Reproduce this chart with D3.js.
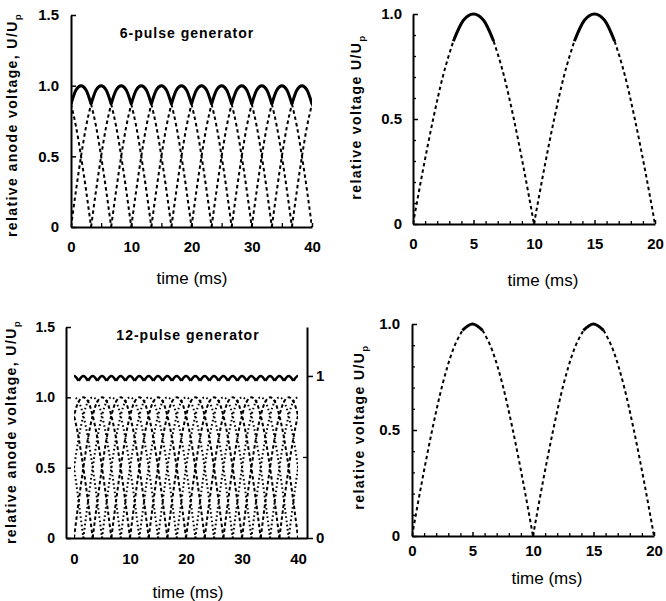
<!DOCTYPE html>
<html>
<head>
<meta charset="utf-8">
<script src="https://cdn.jsdelivr.net/npm/d3@7"></script>
<style>
  body { margin: 0; background: #fff; }
  text { fill: #000; }
</style>
</head>
<body>
<svg id="fig" width="666" height="601"></svg>
<script>
// one rectified half-period (10 ms) of the mains voltage
const halfWaveTime = [0, 0.833, 1.667, 2.5, 3.333, 4.167, 5, 5.833, 6.667, 7.5, 8.333, 9.167, 10];
const halfWaveValue = [0, 0.26, 0.5, 0.71, 0.87, 0.97, 1.0, 0.97, 0.87, 0.71, 0.5, 0.26, 0];

// zero crossings (ms) of the phase voltages
const phases6 = [0, 3.333, 6.667];
const phases12a = [0, 3.333, 6.667];
const phases12b = [1.667, 5, 8.333];
const cycleStarts40 = [-10, 0, 10, 20, 30];
const cycleStarts20 = [0, 10];

// tick labels
const ticksAnode = [0, 0.5, 1.0, 1.5];
const ticksRel = [0, 0.5, 1.0];
const ticksRelMinor = [0.1, 0.2, 0.3, 0.4, 0.6, 0.7, 0.8, 0.9];
const ticksRight12 = [0, 1];
const ticksTime40 = [0, 10, 20, 30, 40];
const ticksTime40Minor = [5, 15, 25, 35];
const ticksTime20 = [0, 5, 10, 15, 20];
const ticksTime20Minor = [1, 2, 3, 4, 6, 7, 8, 9, 11, 12, 13, 14, 16, 17, 18, 19];

const font = '"Liberation Sans", Arial, Helvetica, sans-serif';
const svg = d3.select("#fig");
const fmt = (d) => (d === 0 ? "0" : d3.format(".1f")(d));

// split one half-wave into rising (dashed), crest (solid) and falling (dashed) parts
function halfWave(t0, crestFrom, crestTo) {
  const pts = halfWaveTime.map((t, i) => ({ t: t0 + t, v: halfWaveValue[i] }));
  return {
    dashed: [pts.slice(0, crestFrom + 1), pts.slice(crestTo)],
    solid: pts.slice(crestFrom, crestTo + 1),
    all: pts
  };
}

function styleAxis(g, size) {
  g.attr("font-family", font).attr("font-size", size).attr("font-weight", "bold");
  g.select(".domain").attr("stroke-width", 2).attr("stroke", "#000");
  g.selectAll(".tick line").attr("stroke-width", 1.5).attr("stroke", "#000");
  g.selectAll(".tick text").attr("fill", "#000");
}

function minorAxis(axis, g) {
  g.call(axis.tickFormat("")).call((s) => s.select(".domain").remove());
  g.selectAll(".tick line").attr("stroke-width", 1.3).attr("stroke", "#000");
}

function yLabel(x, y, main, size) {
  const t = svg.append("text")
    .attr("transform", `translate(${x},${y}) rotate(-90)`)
    .attr("text-anchor", "middle")
    .attr("font-family", font)
    .attr("font-size", size)
    .attr("font-weight", "bold")
    .attr("letter-spacing", 1.4)
    .text(main);
  t.append("tspan").attr("font-size", size * 0.7).attr("dy", 4).text("p");
}

function xLabel(x, y) {
  svg.append("text")
    .attr("x", x).attr("y", y)
    .attr("text-anchor", "middle")
    .attr("font-family", font)
    .attr("font-size", 17)
    .text("time (ms)");
}

function title(x, y, txt) {
  svg.append("text")
    .attr("x", x).attr("y", y)
    .attr("text-anchor", "middle")
    .attr("font-family", font)
    .attr("font-size", 14)
    .attr("font-weight", "bold")
    .attr("letter-spacing", 1)
    .text(txt);
}

function clipFor(id, x, y, tmax) {
  svg.append("clipPath").attr("id", id)
    .append("rect")
    .attr("x", x(0)).attr("width", x(tmax) - x(0))
    .attr("y", y.range()[1] - 10).attr("height", y.range()[0] - y.range()[1] + 12);
}

// ---------- top left: 6-pulse generator ----------
{
  const x = d3.scaleLinear().domain([0, 40]).range([71, 312]);
  const y = d3.scaleLinear().domain([0, 1.5]).range([227, 15]);
  const line = d3.line().x((d) => x(d.t)).y((d) => y(d.v)).curve(d3.curveMonotoneX);
  clipFor("clipA", x, y, 40);
  const g = svg.append("g").attr("clip-path", "url(#clipA)");
  phases6.forEach((p) => {
    cycleStarts40.forEach((c) => {
      const hw = halfWave(p + c, 4, 8);
      hw.dashed.forEach((seg) => {
        g.append("path").attr("d", line(seg)).attr("fill", "none")
          .attr("stroke", "#000").attr("stroke-width", 2).attr("stroke-dasharray", "3.5,3");
      });
      g.append("path").attr("d", line(hw.solid)).attr("fill", "none")
        .attr("stroke", "#000").attr("stroke-width", 3);
    });
  });

  minorAxis(d3.axisBottom(x).tickValues(ticksTime40Minor).tickSize(-4),
    svg.append("g").attr("transform", `translate(0,${y(0)})`));
  svg.append("g").attr("transform", `translate(0,${y(0)})`)
    .call(d3.axisBottom(x).tickValues(ticksTime40).tickSize(-4).tickSizeOuter(0).tickPadding(14))
    .call((s) => styleAxis(s, 15));
  svg.append("g").attr("transform", `translate(${x(0)},0)`)
    .call(d3.axisLeft(y).tickValues(ticksAnode).tickFormat(fmt).tickSize(-5).tickSizeOuter(0).tickPadding(12))
    .call((s) => styleAxis(s, 15));

  yLabel(17, 125, "relative anode voltage, U/U", 14);
  xLabel(192, 284);
  title(187, 38, "6-pulse generator");
}

// ---------- top right: single phase ----------
{
  const x = d3.scaleLinear().domain([0, 20]).range([413, 655]);
  const y = d3.scaleLinear().domain([0, 1]).range([224, 14]);
  const line = d3.line().x((d) => x(d.t)).y((d) => y(d.v)).curve(d3.curveMonotoneX);
  clipFor("clipB", x, y, 20);
  const g = svg.append("g").attr("clip-path", "url(#clipB)");
  cycleStarts20.forEach((c) => {
    const hw = halfWave(c, 4, 8);
    hw.dashed.forEach((seg) => {
      g.append("path").attr("d", line(seg)).attr("fill", "none")
        .attr("stroke", "#000").attr("stroke-width", 2).attr("stroke-dasharray", "3.5,3");
    });
    g.append("path").attr("d", line(hw.solid)).attr("fill", "none")
      .attr("stroke", "#000").attr("stroke-width", 3);
  });

  minorAxis(d3.axisBottom(x).tickValues(ticksTime20Minor).tickSize(-3),
    svg.append("g").attr("transform", `translate(0,${y(0)})`));
  minorAxis(d3.axisLeft(y).tickValues(ticksRelMinor).tickSize(-3),
    svg.append("g").attr("transform", `translate(${x(0)},0)`));
  svg.append("g").attr("transform", `translate(0,${y(0)})`)
    .call(d3.axisBottom(x).tickValues(ticksTime20).tickSize(-4).tickSizeOuter(0).tickPadding(14))
    .call((s) => styleAxis(s, 15));
  svg.append("g").attr("transform", `translate(${x(0)},0)`)
    .call(d3.axisLeft(y).tickValues(ticksRel).tickFormat(fmt).tickSize(-5).tickSizeOuter(0).tickPadding(11))
    .call((s) => styleAxis(s, 15));

  yLabel(361, 117, "relative voltage U/U", 14);
  xLabel(543, 286);
}

// ---------- bottom left: 12-pulse generator ----------
{
  const x = d3.scaleLinear().domain([-1.43, 41.6]).range([66, 307]);
  const y = d3.scaleLinear().domain([0, 1.5]).range([538, 327]);
  const yR = d3.scaleLinear().domain([0, 1.302]).range([538, 327]);
  const line = d3.line().x((d) => x(d.t)).y((d) => y(d.v)).curve(d3.curveMonotoneX);
  const lineR = d3.line().x((d) => x(d.t)).y((d) => yR(d.v)).curve(d3.curveMonotoneX);
  clipFor("clipC", x, y, 40);
  const g = svg.append("g").attr("clip-path", "url(#clipC)");
  [[phases12a, "3.5,2.5"], [phases12b, "1.6,2.6"]].forEach(([phs, dash]) => {
    phs.forEach((p) => {
      cycleStarts40.forEach((c) => {
        g.append("path").attr("d", line(halfWave(p + c, 5, 7).all)).attr("fill", "none")
          .attr("stroke", "#000").attr("stroke-width", 2).attr("stroke-dasharray", dash);
      });
    });
  });
  phases12a.concat(phases12b).forEach((p) => {
    cycleStarts40.forEach((c) => {
      g.append("path").attr("d", lineR(halfWave(p + c, 5, 7).solid)).attr("fill", "none")
        .attr("stroke", "#000").attr("stroke-width", 2.6);
    });
  });

  svg.append("g").attr("transform", `translate(0,${y(0)})`)
    .call(d3.axisBottom(x).tickValues(ticksTime40).tickSize(0).tickSizeOuter(0).tickPadding(15))
    .call((s) => styleAxis(s, 15));
  svg.append("g").attr("transform", `translate(${x.range()[0]},0)`)
    .call(d3.axisLeft(y).tickValues(ticksAnode).tickFormat(fmt).tickSize(-5).tickSizeOuter(0).tickPadding(11))
    .call((s) => styleAxis(s, 14));
  minorAxis(d3.axisRight(yR).tickValues([0.5]).tickSize(-4),
    svg.append("g").attr("transform", `translate(${x.range()[1]},0)`));
  svg.append("g").attr("transform", `translate(${x.range()[1]},0)`)
    .call(d3.axisRight(yR).tickValues(ticksRight12).tickFormat(d3.format("d")).tickSize(6).tickSizeOuter(0).tickPadding(3))
    .call((s) => styleAxis(s, 15));

  yLabel(16, 432, "relative anode voltage, U/U", 14);
  xLabel(188, 598);
  title(188, 340, "12-pulse generator");
}

// ---------- bottom right: single phase ----------
{
  const x = d3.scaleLinear().domain([0, 20]).range([412, 654]);
  const y = d3.scaleLinear().domain([0, 1]).range([536, 324]);
  const line = d3.line().x((d) => x(d.t)).y((d) => y(d.v)).curve(d3.curveMonotoneX);
  clipFor("clipD", x, y, 20);
  const g = svg.append("g").attr("clip-path", "url(#clipD)");
  cycleStarts20.forEach((c) => {
    const hw = halfWave(c, 5, 7);
    hw.dashed.forEach((seg) => {
      g.append("path").attr("d", line(seg)).attr("fill", "none")
        .attr("stroke", "#000").attr("stroke-width", 2).attr("stroke-dasharray", "3.5,3");
    });
    g.append("path").attr("d", line(hw.solid)).attr("fill", "none")
      .attr("stroke", "#000").attr("stroke-width", 3);
  });

  minorAxis(d3.axisBottom(x).tickValues(ticksTime20Minor).tickSize(-3),
    svg.append("g").attr("transform", `translate(0,${y(0)})`));
  minorAxis(d3.axisLeft(y).tickValues(ticksRelMinor).tickSize(-3),
    svg.append("g").attr("transform", `translate(${x(0)},0)`));
  svg.append("g").attr("transform", `translate(0,${y(0)})`)
    .call(d3.axisBottom(x).tickValues(ticksTime20).tickSize(-4).tickSizeOuter(0).tickPadding(9))
    .call((s) => styleAxis(s, 15));
  svg.append("g").attr("transform", `translate(${x(0)},0)`)
    .call(d3.axisLeft(y).tickValues(ticksRel).tickFormat(fmt).tickSize(-5).tickSizeOuter(0).tickPadding(12))
    .call((s) => styleAxis(s, 15));

  yLabel(364, 427, "relative voltage U/U", 14);
  xLabel(547, 584);
}
</script>
</body>
</html>
